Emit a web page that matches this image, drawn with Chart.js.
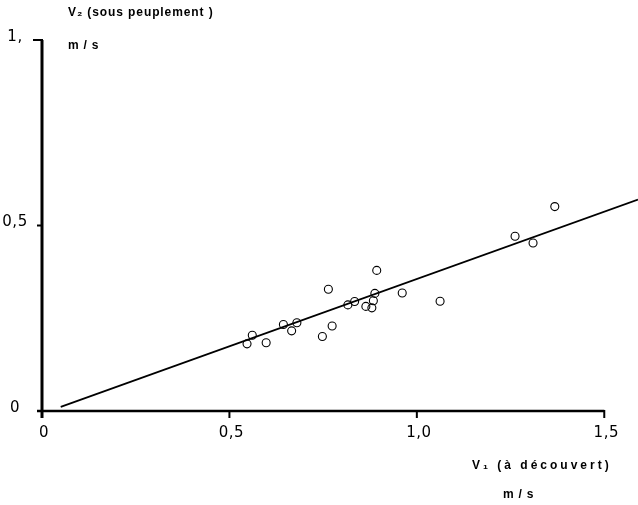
<!DOCTYPE html>
<html lang="fr">

<head>
    <meta charset="UTF-8">
    <title>V2 / V1</title>
    <script src="https://cdn.jsdelivr.net/npm/chart.js@4.4.0/dist/chart.umd.min.js"></script>
    <style>
        body { margin: 0; background: #fff; }
    </style>
</head>

<body>
    <canvas id="canvas" width="638" height="505"></canvas>
    <script>
        // vitesse a decouvert (V1) et sous peuplement (V2), m/s
        const v1 = [0.547, 0.561, 0.598, 0.644, 0.666, 0.680, 0.748, 0.774, 0.764, 0.816, 0.834,
                    0.864, 0.880, 0.884, 0.888, 0.893, 0.961, 1.062, 1.262, 1.310, 1.368];
        const v2 = [0.181, 0.204, 0.184, 0.233, 0.216, 0.238, 0.201, 0.229, 0.328, 0.286, 0.295,
                    0.282, 0.278, 0.297, 0.317, 0.379, 0.318, 0.296, 0.471, 0.453, 0.551];

        // droite d'ajustement
        const fitX = [0.05, 1.59];
        const fitY = [0.011, 0.57];

        const xTicks = [0, 0.5, 1.0, 1.5];
        const xTickLabels = ['0', '0,5', '1,0', '1,5'];
        const yTicks = [0, 0.5, 1.0];
        const yTickLabels = ['0', '0,5', '1,'];

        const TICK_FONT = '15px "DejaVu Sans", sans-serif';
        const LABEL_FONT = 'bold 12px "Liberation Sans", Arial, sans-serif';

        function spaced(ctx, text, x, y, spacing) {
            if ('letterSpacing' in ctx) {
                ctx.letterSpacing = spacing + 'px';
                ctx.fillText(text, x, y);
                ctx.letterSpacing = '0px';
            } else {
                ctx.fillText(text, x, y);
            }
        }

        // axes dessines a la main : l'axe x s'arrete a 1,5 alors que la droite continue
        const axesPlugin = {
            id: 'axes',
            beforeDatasetsDraw(chart) {
                const ctx = chart.ctx;
                const xs = chart.scales.x, ys = chart.scales.y;
                const x0 = xs.getPixelForValue(0);
                const y0 = ys.getPixelForValue(0);
                const xEnd = xs.getPixelForValue(1.5);
                const yTop = ys.getPixelForValue(1.0);
                ctx.save();
                ctx.strokeStyle = '#000';
                ctx.lineCap = 'butt';

                ctx.lineWidth = 3;
                ctx.beginPath();
                ctx.moveTo(x0, yTop);
                ctx.lineTo(x0, y0 + 7);
                ctx.stroke();

                ctx.lineWidth = 2.4;
                ctx.beginPath();
                ctx.moveTo(x0 - 5, y0);
                ctx.lineTo(xEnd, y0);
                ctx.stroke();

                ctx.lineWidth = 2;
                xTicks.slice(1).forEach(v => {
                    const px = xs.getPixelForValue(v);
                    ctx.beginPath();
                    ctx.moveTo(px, y0 - 1);
                    ctx.lineTo(px, y0 + 7);
                    ctx.stroke();
                });
                yTicks.slice(1).forEach(v => {
                    const py = ys.getPixelForValue(v);
                    ctx.beginPath();
                    ctx.moveTo(x0 + 1, py);
                    ctx.lineTo(x0 - (v === 1 ? 9 : 5), py);
                    ctx.stroke();
                });
                ctx.restore();
            },
            afterDraw(chart) {
                const ctx = chart.ctx;
                const xs = chart.scales.x, ys = chart.scales.y;
                ctx.save();
                ctx.fillStyle = '#000';

                ctx.font = TICK_FONT;
                ctx.textAlign = 'center';
                ctx.textBaseline = 'middle';
                xTicks.forEach((v, i) => {
                    spaced(ctx, xTickLabels[i], xs.getPixelForValue(v) + 2, ys.getPixelForValue(0) + 22, 0.5);
                });
                yTicks.forEach((v, i) => {
                    spaced(ctx, yTickLabels[i], 15, ys.getPixelForValue(v) - 3, 0.5);
                });

                ctx.font = LABEL_FONT;
                ctx.textAlign = 'left';
                spaced(ctx, 'V\u2082 (sous peuplement )', 68, 13, 0.9);
                spaced(ctx, 'm / s', 68, 46, 0.8);
                spaced(ctx, 'V\u2081 (\u00e0 d\u00e9couvert)', 472, 466, 3);
                spaced(ctx, 'm / s', 503, 495, 0.8);
                ctx.restore();
            }
        };

        const ctx = document.getElementById('canvas').getContext('2d');
        new Chart(ctx, {
            data: {
                datasets: [{
                    type: 'scatter',
                    data: v1.map((x, i) => ({ x: x, y: v2[i] })),
                    pointStyle: 'circle',
                    pointRadius: 4,
                    pointBorderWidth: 1.1,
                    pointBorderColor: '#000',
                    pointBackgroundColor: 'rgba(0,0,0,0)'
                }, {
                    type: 'line',
                    data: fitX.map((x, i) => ({ x: x, y: fitY[i] })),
                    borderColor: '#000',
                    borderWidth: 1.8,
                    pointRadius: 0,
                    fill: false,
                    clip: false
                }]
            },
            options: {
                responsive: false,
                animation: false,
                layout: { autoPadding: false, padding: { left: 42, right: 0, top: 40, bottom: 94 } },
                plugins: { legend: { display: false }, tooltip: { enabled: false } },
                scales: {
                    x: { type: 'linear', min: 0, max: 1.59, display: false },
                    y: { type: 'linear', min: 0, max: 1, display: false }
                }
            },
            plugins: [axesPlugin]
        });
    </script>
</body>

</html>
